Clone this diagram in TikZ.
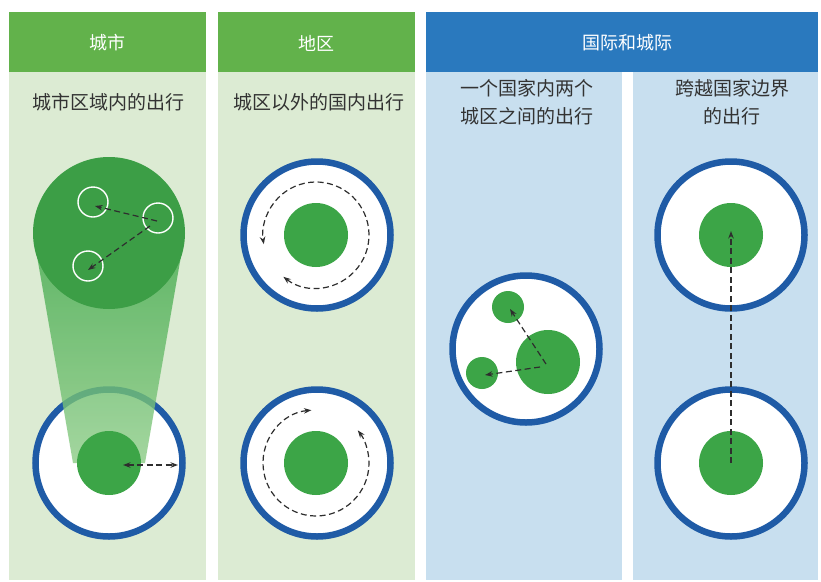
\documentclass[tikz,border=0pt]{standalone}
\usepackage{fontspec}
\setmainfont{Noto Sans CJK SC}
\usetikzlibrary{arrows.meta}
\definecolor{hgreen}{HTML}{62B24B}
\definecolor{lgreen}{HTML}{DCEBD3}
\definecolor{hblue}{HTML}{2A79BE}
\definecolor{lblue}{HTML}{C8DFEF}
\definecolor{ringblue}{HTML}{1F5BA6}
\definecolor{coregreen}{HTML}{3CA547}
\definecolor{biggreen}{HTML}{3C9E46}
\definecolor{conetop}{HTML}{3FA84A}
\definecolor{conebot}{HTML}{8CCC86}
\definecolor{tripgray}{HTML}{2E2E2E}
\definecolor{txt}{HTML}{333333}
\begin{document}
\begin{tikzpicture}[x=1pt,y=-1pt,
  ring/.style={circle, draw=ringblue, line width=6.5pt, fill=white, minimum size=147pt, inner sep=0pt},
  core/.style={circle, fill=coregreen, minimum size=64pt, inner sep=0pt},
  minor/.style={circle, fill=coregreen, minimum size=32pt, inner sep=0pt},
  wring/.style={circle, draw=white, line width=1.4pt, minimum size=30pt, inner sep=0pt},
  trip/.style={draw=tripgray, line width=1.2pt, dash pattern=on 6pt off 3.5pt, -{Stealth[length=7.5pt,width=5.5pt]}},
  tripb/.style={draw=tripgray, line width=1.2pt, dash pattern=on 6pt off 3.5pt, {Stealth[length=7.5pt,width=5.5pt]}-{Stealth[length=7.5pt,width=5.5pt]}},
  htext/.style={text=white, font=\fontsize{18}{22}\selectfont, inner sep=0pt},
  btext/.style={text=txt, font=\fontsize{19}{28}\selectfont, align=center, inner sep=0pt}
]
\useasboundingbox[fill=white] (0,0) rectangle (821,581);
% panels
\fill[hgreen] (9,12) rectangle (206,72);
\fill[lgreen] (9,72) rectangle (206,580);
\fill[hgreen] (218,12) rectangle (415,72);
\fill[lgreen] (218,72) rectangle (415,580);
\fill[hblue] (426,12) rectangle (818,72);
\fill[lblue] (426,72) rectangle (622,580);
\fill[lblue] (633,72) rectangle (818,580);
% texts
\node[htext] (h1) at (107.5,43) {城市};
\node[htext] (h2) at (316.5,43) {地区};
\node[htext] (h3) at (627,43) {国际和城际};
\node[btext] (b1) at (108,102) {城市区域内的出行};
\node[btext] (b2) at (319,102) {城区以外的国内出行};
\node[btext] (b3) at (527,102) {一个国家内两个\\城区之间的出行};
\node[btext] (b4) at (732,102) {跨越国家边界\\的出行};
% column 1
\node[ring] (r1) at (109,463) {};
\shade[top color=conetop, bottom color=conebot, fill opacity=0.8] (33,233) -- (185,233) -- (145,463) -- (73,463) -- cycle;
\node[circle, fill=biggreen, minimum size=152pt, inner sep=0pt] (big) at (109,233) {};
\node[core] (c1) at (109,463) {};
\node[wring] (w1) at (93,202) {};
\node[wring] (w2) at (158,218) {};
\node[wring] (w3) at (88,266) {};
\coordinate (a1s) at (157,221);
\coordinate (a1e) at (95,206);
\coordinate (a2s) at (150,226);
\coordinate (a2e) at (88,270);
\draw[trip] (a1s) -- (a1e);
\draw[trip] (a2s) -- (a2e);
\coordinate (a3s) at (123,465);
\coordinate (a3e) at (178,465);
\draw[tripb] (a3s) -- (a3e);
% column 2
\node[ring] (r2) at (317,235) {};
\node[core] (c2) at (316,235) {};
\draw[tripb] (c2) ++(-232:53) arc[start angle=-232, end angle=-550, radius=53];
\node[ring] (r3) at (317,463) {};
\node[core] (c3) at (316,463) {};
\draw[tripb] (c3) ++(-95:53) arc[start angle=-95, end angle=-398, radius=53];
% column 3a
\node[ring] (r4) at (526,349) {};
\node[core] (c4) at (548,362) {};
\node[minor] (s1) at (508,307) {};
\node[minor] (s2) at (482,373) {};
\coordinate (a4s) at (546,364);
\coordinate (a4e) at (510,309);
\coordinate (a5s) at (540,367);
\coordinate (a5e) at (485,375);
\draw[trip] (a4s) -- (a4e);
\draw[trip] (a5s) -- (a5e);
% column 3b
\node[ring] (r5) at (731,235) {};
\node[core] (c5) at (731,235) {};
\node[ring] (r6) at (731,463) {};
\node[core] (c6) at (731,463) {};
\draw[trip, shorten >=-4pt] (c6.center) -- (c5.center);
\end{tikzpicture}
\end{document}
